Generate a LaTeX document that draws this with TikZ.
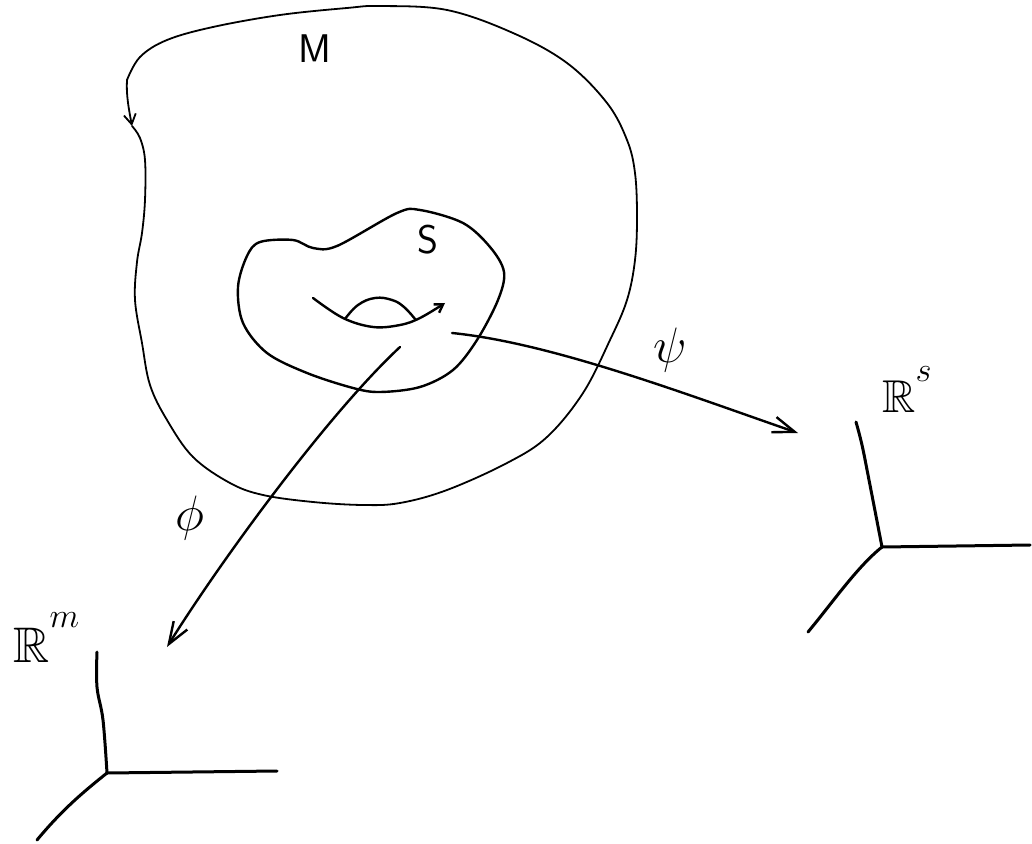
\documentclass[tikz,border=0pt]{standalone}
\usepackage{amssymb}
\usetikzlibrary{arrows.meta}

\begin{document}
\begin{tikzpicture}[
    x=0.5pt, y=-0.5pt, line cap=round, line join=round,
    outline/.style={line width=0.9pt},
    subset/.style={line width=1.2pt},
    mapline/.style={line width=1.2pt, -{Straight Barb[length=11pt, width=8pt]}},
    axis/.style={line width=1.5pt},
    letter/.style={inner sep=0pt, font=\sffamily\fontsize{20}{22}\selectfont}
]
\useasboundingbox (0,0) rectangle (1032,844);

% -------------------------
% Manifold M (outline with orientation arrow)
% -------------------------
\draw[outline] plot[smooth, tension=0.6] coordinates {
    (132,126) (140,138) (145,160) (145,200) (142,233) (137,262) (135,300)
    (142,343) (150,385) (167,420) (193,457) (230,483) (263,495) (313,502)
    (363,505) (400,503) (447,490) (507,463) (547,437) (583,393) (610,340)
    (627,300) (635,260) (637,217) (635,173) (627,140) (607,103) (567,63)
    (513,33) (447,10) (380,6) (347,8) (280,15) (213,27) (167,40) (140,57)
    (127,80)};
\draw[outline, -{Straight Barb[length=5pt, width=6pt]}] (127,80) .. controls (126,95) and (129,110) .. (132,126);
\node[letter] (Mlabel) at (315,49) {M};

% -------------------------
% Submanifold S
% -------------------------
\draw[subset] plot[smooth cycle, tension=0.55] coordinates {
    (247,256) (260,242) (293,240) (313,248) (337,246) (397,213) (420,210)
    (463,223) (490,247) (504,272) (498,300) (477,340) (453,370) (420,387)
    (380,392) (353,388) (307,373) (267,353) (243,323) (238,287)};
\node[letter] (Slabel) at (428,240) {S};

% the little handle drawn on S
\draw[subset, -{Straight Barb[length=4pt, width=5pt]}] plot[smooth, tension=0.6] coordinates {
    (313,298) (343,318) (373,327) (400,325) (420,318) (445,303)};
\draw[subset] plot[smooth, tension=0.7] coordinates {
    (345,319) (358,305) (375,298) (392,300) (404,307) (415,319)};

% -------------------------
% Charts phi and psi
% -------------------------
\coordinate (PhiStart) at (400,347);
\coordinate (PhiEnd) at (167,647);
\coordinate (PsiStart) at (452,333);
\coordinate (PsiEnd) at (798,433);

\draw[mapline] (PhiStart) .. controls +(-73,68) and +(53,-85) .. (PhiEnd);
\draw[mapline] (PsiStart) .. controls +(100,10) and +(-110,-38) .. (PsiEnd);

\node[inner sep=0pt, font=\fontsize{28}{30}\selectfont] (PhiLabel) at (190,518) {$\phi$};
\node[inner sep=0pt, font=\fontsize{24}{26}\selectfont] (PsiLabel) at (670,350) {$\psi$};

% -------------------------
% Target spaces
% -------------------------
\node[inner sep=0pt, anchor=base west, font=\fontsize{25}{27}\selectfont] (RmLabel) at (13,662)
    {$\mathbb{R}^{\raisebox{8pt}{$\scriptstyle m$}}$};
\node[inner sep=0pt, anchor=base west, font=\fontsize{23}{25}\selectfont] (RsLabel) at (882,412)
    {$\mathbb{R}^{\raisebox{6pt}{$\scriptstyle s$}}$};

\coordinate (Om) at (107,773);
\draw[axis] plot[smooth, tension=0.6] coordinates {(97,652) (97,687) (103,720) (107,773)};
\draw[axis] (Om) -- (277,771);
\draw[axis] (Om) .. controls +(-25,20) and +(25,-30) .. (37,840);

\coordinate (Os) at (882,547);
\draw[axis] plot[smooth, tension=0.6] coordinates {(856,422) (862,445) (869,480) (882,547)};
\draw[axis] (Os) -- (1030,545);
\draw[axis] (Os) .. controls +(-25,20) and +(25,-30) .. (808,632);

\end{tikzpicture}
\end{document}
